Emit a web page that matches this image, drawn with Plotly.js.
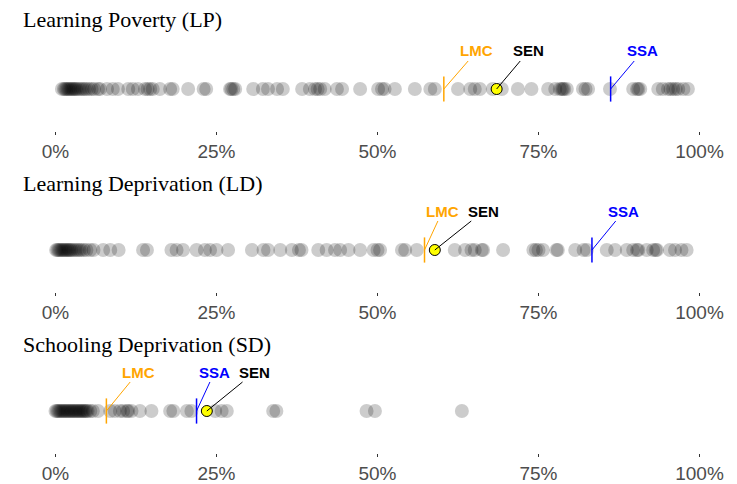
<!DOCTYPE html>
<html>
<head>
<meta charset="utf-8">
<script src="https://cdn.plot.ly/plotly-3.0.1.min.js"></script>
<style>html,body{margin:0;padding:0;background:#fff;}#chart{width:737px;height:484px;}</style>
</head>
<body>
<div id="chart"></div>
<script>
// Panel titles
var panelTitles = ["Learning Poverty (LP)", "Learning Deprivation (LD)", "Schooling Deprivation (SD)"];
// Country values (%) per indicator
var lpValues = [1.0,1.3,1.5,1.7,1.9,2.1,2.3,2.5,2.7,2.9,3.1,3.3,3.6,3.9,4.2,4.5,4.8,5.2,5.6,6.0,6.6,
  6.9,8.0,8.9,9.7,11.3,12.0,12.8,13.9,14.3,14.7,15.1,16.2,
  17.8,18.2,20.6,23.0,23.4,27.1,27.3,27.6,27.9,30.7,32.2,33.0,34.4,35.3,38.3,39.5,40.3,40.7,41.1,41.8,43.7,44.5,47.3,50.1,
  50.7,51.1,52.7,55.8,58.2,58.9,62.5,64.4,65.1,65.9,67.9,69.3,71.8,73.9,76.5,77.6,78.3,78.6,78.8,79.0,79.4,81.9,82.3,82.7,86.1,
  89.7,90.3,90.5,90.8,93.6,94.3,95.1,95.5,95.9,96.3,96.7,97.5,98.2];
var ldValues = [0.1,0.3,0.5,0.7,0.9,1.1,1.3,1.5,1.7,1.9,2.1,2.3,2.5,2.8,3.1,3.4,3.7,4.0,4.4,4.8,
  5.4,5.9,7.4,8.5,9.8,13.6,14.2,18.0,18.8,19.8,21.9,23.2,
  24.0,25.0,26.8,30.5,32.3,33.0,34.9,36.7,37.8,38.2,40.8,42.1,43.4,44.2,45.5,47.3,49.4,50.0,50.4,53.8,54.3,56.1,
  62.0,63.6,64.6,65.1,66.2,66.4,69.5,74.2,74.6,75.0,75.7,77.8,78.0,80.7,82.0,82.5,85.6,86.9,88.7,89.7,90.3,90.5,91.8,92.8,93.2,93.4,95.4,
  96.2,97.2,98.0];
var sdValues = [0,0.2,0.4,0.6,0.8,1.0,1.2,1.4,1.6,1.8,2.0,2.2,2.4,2.6,2.8,3.0,3.2,3.4,3.6,3.8,4.0,4.2,4.4,4.6,4.8,5.0,
  5.4,5.8,6.6,8.5,9.2,10.0,10.5,11.1,11.3,11.8,13.1,14.9,
  17.8,18.3,20.4,21.1,24.8,25.8,26.6,33.8,34.3,48.3,49.6,63.1];
// Reference values per panel: LP, LD, SD
var lmcValues = [60.3, 57.3, 7.9];
var senValues = [68.5, 58.9, 23.5];
var ssaValues = [86.2, 83.3, 21.9];
var tickValues = [0, 25, 50, 75, 100];
var tickLabels = ["0%", "25%", "50%", "75%", "100%"];

var series = [lpValues, ldValues, sdValues];
// label offsets (pixels) for LMC, SEN, SSA per panel
var offsets = [
  {LMC:[33,-38], SEN:[32,-38], SSA:[32,-38]},
  {LMC:[18,-39], SEN:[49,-39], SSA:[32,-39]},
  {LMC:[32,-39], SEN:[48,-39], SSA:[18,-39]}
];
var W = 737, H = 484;
var axisPx = [131, 292, 453];
var dotPx = [89, 250, 411];
var titlePx = [20, 183, 344];

var traces = [], annotations = [], layout = {
  width: W, height: H, margin: {l:0, r:0, t:0, b:0},
  paper_bgcolor: "#fff", plot_bgcolor: "rgba(0,0,0,0)", showlegend: false
};

for (var p = 0; p < 3; p++) {
  var sfx = p === 0 ? "" : String(p + 1);
  var xa = "x" + sfx, ya = "y" + sfx;
  var zeros = series[p].map(function(){ return 0; });
  traces.push({type:"scatter", mode:"markers", x: series[p], y: zeros, xaxis: xa, yaxis: ya,
    cliponaxis:false, hoverinfo:"x",
    marker:{size:14, color:"rgba(0,0,0,0.2)", line:{width:0}}});
  traces.push({type:"scatter", mode:"markers", x:[lmcValues[p]], y:[0], xaxis: xa, yaxis: ya, cliponaxis:false,
    marker:{symbol:"line-ns", size:18, line:{color:"#FFA500", width:1.5}}});
  traces.push({type:"scatter", mode:"markers", x:[ssaValues[p]], y:[0], xaxis: xa, yaxis: ya, cliponaxis:false,
    marker:{symbol:"line-ns", size:18, line:{color:"#0000FF", width:1.5}}});
  traces.push({type:"scatter", mode:"markers", x:[senValues[p]], y:[0], xaxis: xa, yaxis: ya, cliponaxis:false,
    marker:{size:11, color:"#FFFF00", line:{color:"black", width:1}}});

  var halfPx = (axisPx[p] - dotPx[p]);
  var topPx = dotPx[p] - halfPx;
  layout["xaxis" + sfx] = {
    domain:[55.5/W, 699.5/W], range:[0,100], anchor: ya,
    tickvals: tickValues, ticktext: tickLabels,
    ticks:"outside", ticklen:3, tickwidth:1, tickcolor:"#333333",
    showgrid:false, zeroline:false, showline:false,
    tickfont:{family:"Liberation Sans, Arial, sans-serif", size:19, color:"#4d4d4d"}
  };
  layout["yaxis" + sfx] = {
    domain:[1 - axisPx[p]/H, 1 - topPx/H], range:[-1,1], anchor: xa, visible:false, fixedrange:true
  };

  var refs = [["LMC", lmcValues[p], "#FFA500"], ["SEN", senValues[p], "black"], ["SSA", ssaValues[p], "#0000FF"]];
  refs.forEach(function(r){
    var o = offsets[p][r[0]];
    annotations.push({xref: xa, yref: ya, x: r[1], y: 0, text: "<b>" + r[0] + "</b>",
      showarrow:true, arrowhead:0, arrowwidth:1, arrowcolor:r[2], standoff:0, ax:o[0], ay:o[1],
      font:{family:"Liberation Sans, Arial, sans-serif", size:15, color:r[2]}});
  });
  annotations.push({xref:"paper", yref:"paper", x:21/W, y:1 - titlePx[p]/H, xanchor:"left", yanchor:"middle",
    showarrow:false, text: panelTitles[p],
    font:{family:"Liberation Serif, Times New Roman, serif", size:22, color:"black"}});
}
layout.annotations = annotations;
Plotly.newPlot("chart", traces, layout, {displayModeBar:false, staticPlot:true});
</script>
</body>
</html>
